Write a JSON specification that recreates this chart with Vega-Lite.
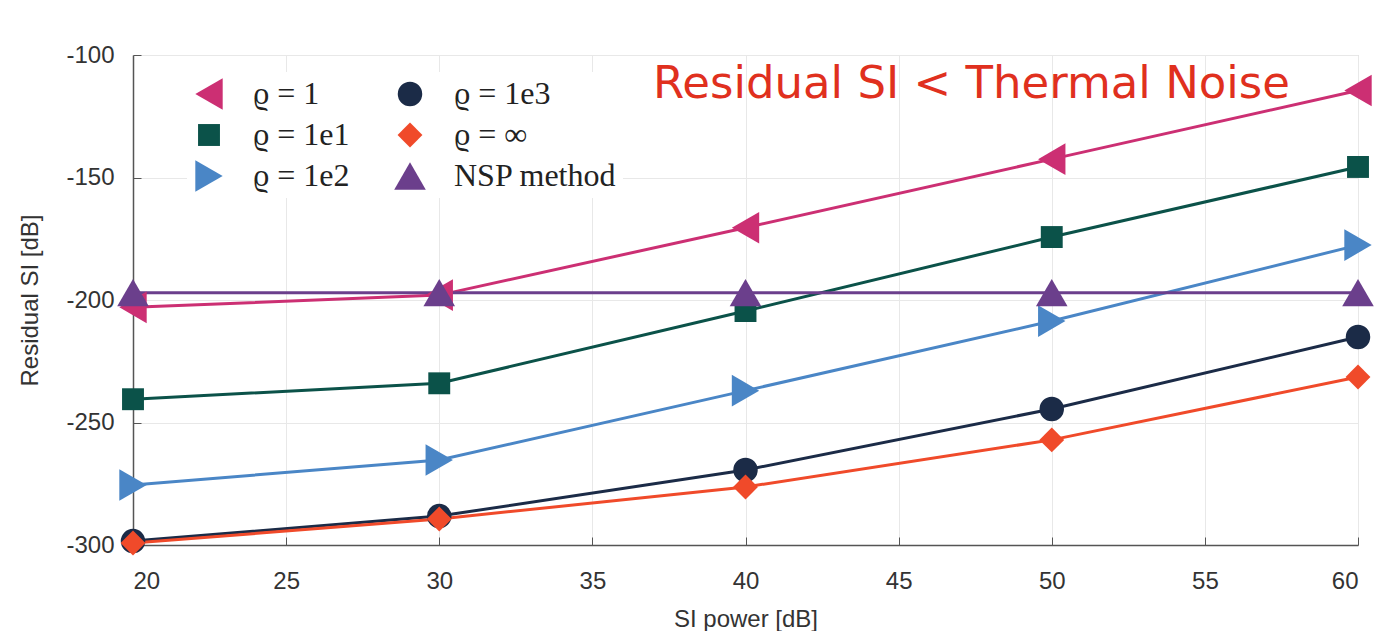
{
  "$schema": "https://vega.github.io/schema/vega-lite/v6.json",
  "width": 1225,
  "height": 490,
  "autosize": {"type": "none"},
  "padding": {"left": 133, "top": 55, "right": 22, "bottom": 86},
  "background": "white",
  "title": {
    "text": "Residual SI < Thermal Noise",
    "orient": "top",
    "anchor": "end",
    "frame": "group",
    "font": "DejaVu Sans",
    "fontSize": 45,
    "fontWeight": "normal",
    "color": "#e0301e",
    "baseline": "top",
    "offset": -64,
    "dx": -68
  },
  "datasets": {
    "pts": [
      {"p": 20, "v": -203, "s": "ϱ = 1"}, {"p": 30, "v": -198, "s": "ϱ = 1"}, {"p": 40, "v": -170.5, "s": "ϱ = 1"}, {"p": 50, "v": -142.5, "s": "ϱ = 1"}, {"p": 60, "v": -114.5, "s": "ϱ = 1"},
      {"p": 20, "v": -240.5, "s": "ϱ = 1e1"}, {"p": 30, "v": -234, "s": "ϱ = 1e1"}, {"p": 40, "v": -204.5, "s": "ϱ = 1e1"}, {"p": 50, "v": -174.3, "s": "ϱ = 1e1"}, {"p": 60, "v": -145.7, "s": "ϱ = 1e1"},
      {"p": 20, "v": -275.5, "s": "ϱ = 1e2"}, {"p": 30, "v": -265.3, "s": "ϱ = 1e2"}, {"p": 40, "v": -237, "s": "ϱ = 1e2"}, {"p": 50, "v": -208.6, "s": "ϱ = 1e2"}, {"p": 60, "v": -177.6, "s": "ϱ = 1e2"},
      {"p": 20, "v": -298.4, "s": "ϱ = 1e3"}, {"p": 30, "v": -288.2, "s": "ϱ = 1e3"}, {"p": 40, "v": -269.4, "s": "ϱ = 1e3"}, {"p": 50, "v": -244.5, "s": "ϱ = 1e3"}, {"p": 60, "v": -215.1, "s": "ϱ = 1e3"},
      {"p": 20, "v": -299.2, "s": "ϱ = ∞"}, {"p": 30, "v": -289.4, "s": "ϱ = ∞"}, {"p": 40, "v": -276.3, "s": "ϱ = ∞"}, {"p": 50, "v": -257.1, "s": "ϱ = ∞"}, {"p": 60, "v": -231.4, "s": "ϱ = ∞"},
      {"p": 20, "v": -197, "s": "NSP method"}, {"p": 30, "v": -197, "s": "NSP method"}, {"p": 40, "v": -197, "s": "NSP method"}, {"p": 50, "v": -197, "s": "NSP method"}, {"p": 60, "v": -197, "s": "NSP method"}
    ]
  },
  "data": {"name": "pts"},
  "encoding": {
    "x": {
      "field": "p", "type": "quantitative",
      "scale": {"domain": [20, 60], "nice": false, "zero": false},
      "axis": {"values": [20, 25, 30, 35, 40, 45, 50, 55, 60], "title": "SI power [dB]", "labelPadding": 32, "titlePadding": 14}
    },
    "y": {
      "field": "v", "type": "quantitative",
      "scale": {"domain": [-300, -100], "nice": false, "zero": false},
      "axis": {"values": [-300, -250, -200, -150, -100], "title": "Residual SI [dB]", "labelPadding": 27, "titlePadding": 23, "labelExpr": "'' + datum.value"}
    },
    "color": {
      "field": "s", "type": "nominal",
      "scale": {
        "domain": ["ϱ = 1", "ϱ = 1e1", "ϱ = 1e2", "ϱ = 1e3", "ϱ = ∞", "NSP method"],
        "range": ["#cc2f73", "#0b5249", "#4a86c6", "#1b2b47", "#f04a2a", "#6b3f8c"]
      }
    }
  },
  "layer": [
    {
      "mark": {"type": "line", "strokeWidth": 3},
      "encoding": {"detail": {"field": "s"}}
    },
    {
      "mark": {"type": "point", "filled": true, "opacity": 1},
      "encoding": {
        "shape": {
          "field": "s", "type": "nominal",
          "scale": {
            "domain": ["ϱ = 1", "ϱ = 1e1", "ϱ = 1e2", "ϱ = 1e3", "ϱ = ∞", "NSP method"],
            "range": ["triangle-left", "square", "triangle-right", "circle", "diamond", "triangle-up"]
          }
        },
        "size": {
          "field": "s", "type": "nominal",
          "scale": {
            "type": "ordinal",
            "domain": ["ϱ = 1", "ϱ = 1e1", "ϱ = 1e2", "ϱ = 1e3", "ϱ = ∞", "NSP method"],
            "range": [1000, 480, 1000, 600, 620, 1000]
          }
        }
      }
    }
  ],
  "config": {
    "view": {"stroke": "#c8c8c8", "strokeWidth": 1},
    "axis": {
      "labelFont": "Liberation Sans",
      "titleFont": "Liberation Sans",
      "labelFontSize": 24,
      "titleFontSize": 24,
      "titleFontWeight": "normal",
      "labelColor": "#333333",
      "titleColor": "#333333",
      "domainColor": "#555555",
      "domainWidth": 1.5,
      "tickColor": "#555555",
      "tickSize": -8,
      "gridColor": "#e8e8e8",
      "gridWidth": 1
    },
    "legend": {
      "orient": "none",
      "legendX": 54,
      "legendY": 17,
      "columns": 2,
      "title": null,
      "labelFont": "Liberation Serif",
      "labelFontSize": 32,
      "labelLimit": 400,
      "labelColor": "#222222",
      "symbolStrokeWidth": 0,
      "rowPadding": 9,
      "columnPadding": 44,
      "labelOffset": 28,
      "padding": 6,
      "fillColor": "white"
    }
  }
}
